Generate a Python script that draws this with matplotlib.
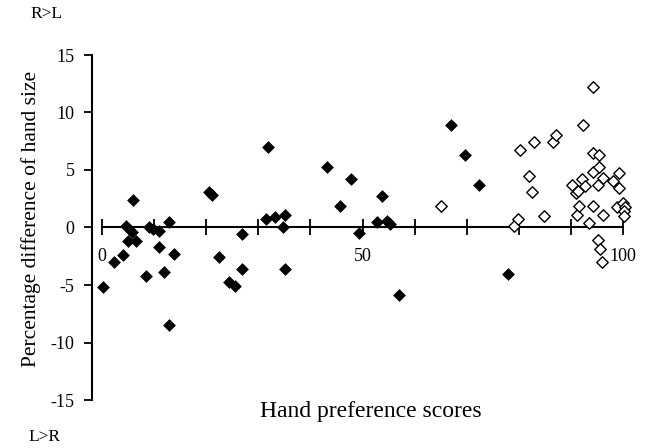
import matplotlib
matplotlib.use("Agg")
import matplotlib.pyplot as plt
import numpy as np

plt.rcParams['font.family'] = ['Liberation Serif', 'DejaVu Serif']

# Filled diamonds
filled_x = [0.1, 2.3, 4.1, 4.7, 5.0, 5.7, 6.0, 6.5, 8.4, 9.1, 9.7, 11.0, 11.0, 11.9,
            12.9, 12.9, 13.8, 20.5, 21.2, 22.4, 24.3, 25.5, 26.9, 26.9, 31.5, 31.9,
            33.3, 34.8, 35.2, 35.2, 43.1, 45.7, 47.7, 49.3, 52.8, 53.7, 54.7, 55.3,
            57.0, 66.9, 69.6, 72.4, 78.0]
filled_y = [-5.2, -3.0, -2.4, 0.1, -1.2, -0.4, 2.4, -1.2, -4.2, 0.0, -0.1, -0.3, -1.7, -3.9,
            0.5, -8.5, -2.3, 3.1, 2.8, -2.6, -4.7, -5.1, -0.55, -3.65, 0.75, 7.0,
            0.9, 0.05, 1.1, -3.6, 5.3, 1.85, 4.2, -0.5, 0.5, 2.7, 0.55, 0.3,
            -5.9, 8.9, 6.3, 3.7, -4.0]

# Open diamonds
open_x = [65.1, 79.0, 79.8, 80.2, 82.0, 82.5, 82.9, 84.8, 86.6, 87.1, 90.2, 90.9, 91.1,
          91.3, 91.6, 92.2, 92.4, 92.7, 93.5, 94.3, 94.3, 94.3, 94.3, 95.2, 95.2, 95.3,
          95.3, 95.5, 95.9, 96.2, 96.2, 98.0, 98.9, 99.3, 99.3, 100.0, 100.4, 100.2, 100.2]
open_y = [1.85, 0.1, 0.7, 6.7, 4.5, 3.1, 7.4, 1.0, 7.45, 8.0, 3.7, 3.0, 1.1,
          3.2, 1.9, 4.2, 8.9, 3.6, 0.4, 12.2, 6.5, 4.8, 1.85, 3.7, -1.1, 6.3,
          5.3, -1.85, -3.0, 4.3, 1.05, 4.0, 1.8, 4.7, 3.45, 2.1, 1.8, 1.4, 1.0]

y_ticks = [-15, -10, -5, 0, 5, 10, 15]
x_ticks = [0, 10, 20, 30, 40, 50, 60, 70, 80, 90, 100]
x_ticklabels = ['0', '', '', '', '', '50', '', '', '', '', '100']

W, H = 651, 448
fig = plt.figure(figsize=(W / 100, H / 100), dpi=100)

x0, x1 = -1.92, 104.0
y0, y1 = -15.5, 15.5
left_px = 92
xscale = 5.21
yscale = 11.5
zero_px = 227.5
ax_w = xscale * (x1 - x0)
top_px = zero_px - yscale * y1
bot_px = zero_px - yscale * y0
ax_h = bot_px - top_px
ax = fig.add_axes([left_px / W, (H - bot_px) / H, ax_w / W, ax_h / H])

ax.scatter(filled_x, filled_y, marker='D', s=36, c='black', edgecolors='black',
           linewidths=0.5, zorder=3)
ax.scatter(open_x, open_y, marker='D', s=34, facecolors='white', edgecolors='black',
           linewidths=1.0, zorder=3)

ax.set_xlim(x0, x1)
ax.set_ylim(y0, y1)

for s in ['top', 'right']:
    ax.spines[s].set_visible(False)
ax.spines['left'].set_bounds(-15, 15)
ax.spines['left'].set_linewidth(1.5)
ax.spines['bottom'].set_position(('data', 0))
ax.spines['bottom'].set_bounds(0, 100)
ax.spines['bottom'].set_linewidth(1.5)

ax.set_yticks(y_ticks)
ax.set_yticklabels([str(v) for v in y_ticks])
ax.tick_params(axis='y', direction='out', length=5.5, width=1.3, pad=7, labelsize=13)
ax.set_xticks(x_ticks)
ax.set_xticklabels(x_ticklabels)
ax.tick_params(axis='x', direction='inout', length=11, width=1.3, pad=9, labelsize=13)

ax.set_ylabel('Percentage difference of hand size', fontsize=15.5)
ax.yaxis.set_label_coords((41 - left_px) / ax_w, 0.5 + 9 / ax_h)

fig.text(371 / W, 1 - 412 / H, 'Hand preference scores', fontsize=17,
         ha='center', va='center')
fig.text(46 / W, 1 - 14 / H, 'R>L', fontsize=12.5, ha='center', va='center')
fig.text(44 / W, 1 - 437 / H, 'L>R', fontsize=12.5, ha='center', va='center')

fig.savefig('out.png', dpi=100)
